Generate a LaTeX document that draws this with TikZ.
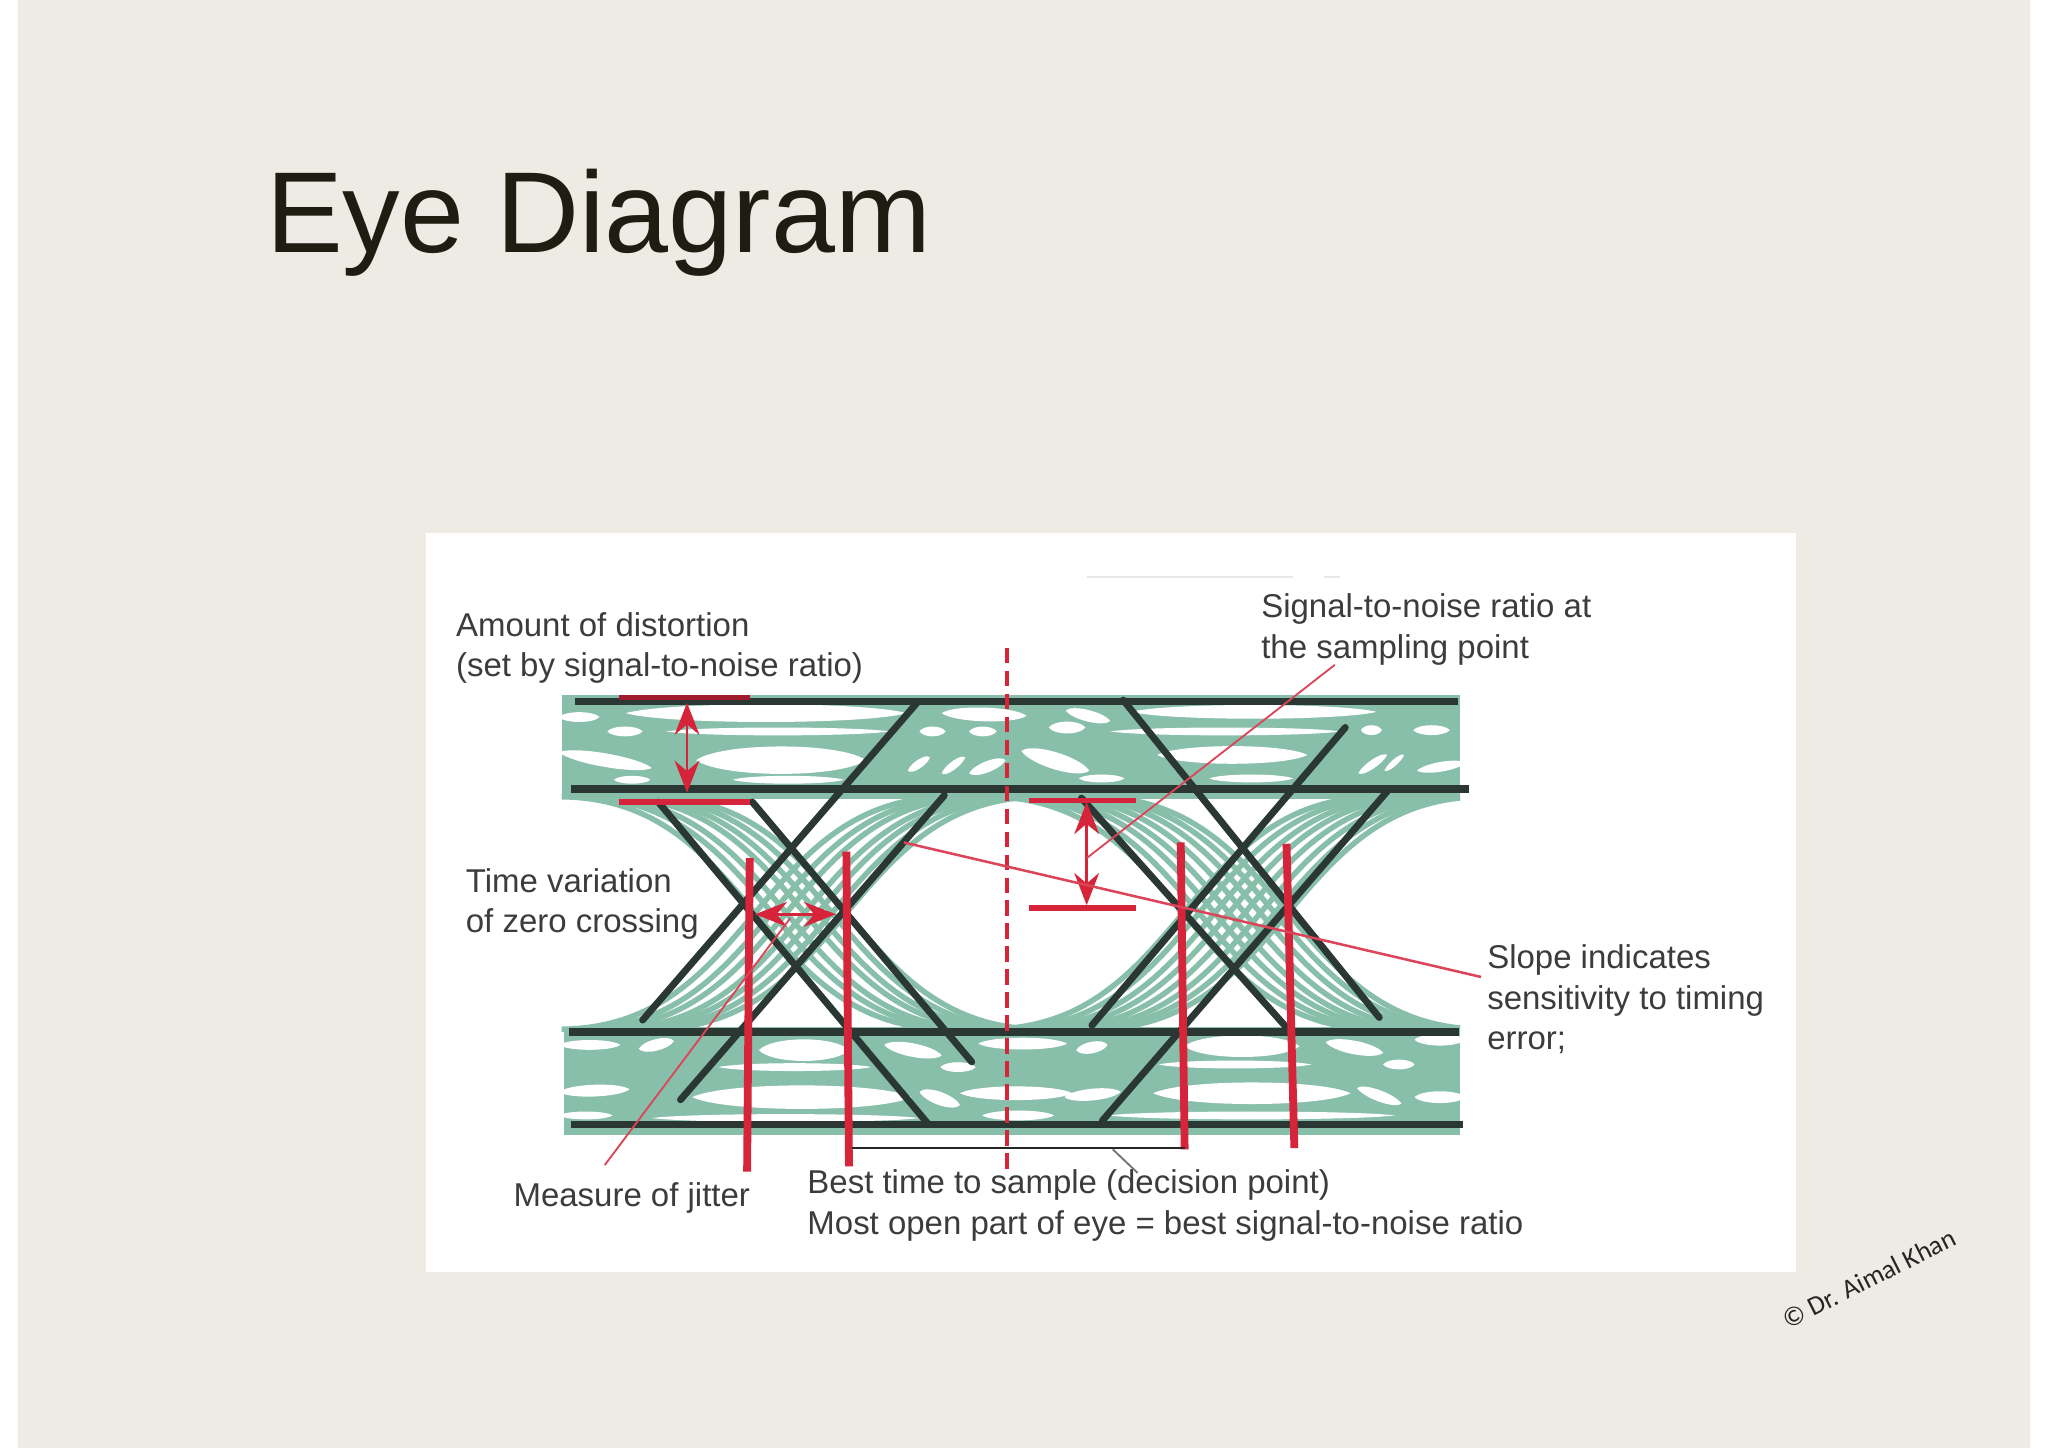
\documentclass[tikz,border=0pt]{standalone}
\usepackage{fontspec}
\setmainfont{Liberation Sans}
\newfontfamily\markfont{Carlito}
\usetikzlibrary{calc,arrows.meta}
\definecolor{slidebg}{HTML}{EEEAE4}
\definecolor{bandgreen}{HTML}{88BFAB}
\definecolor{raildark}{HTML}{2A3733}
\definecolor{markred}{HTML}{D6243A}
\definecolor{labelgray}{HTML}{3C3C3C}
\definecolor{titleink}{HTML}{1D1D12}
\tikzset{
	rail/.style={line width=1.6pt, color=raildark},
	slant/.style={line width=1.5pt, color=raildark, line cap=round},
	trace/.style={line width=1.2pt, color=bandgreen},
	redbar/.style={line width=1.7pt, color=markred},
	redcap/.style={line width=1.2pt, color=markred},
	leader/.style={line width=0.4pt, color=markred!85},
	gap/.style={{Stealth[length=7pt,width=5.4pt]}-{Stealth[length=7pt,width=5.4pt]}, line width=0.6pt, color=markred},
	lbl/.style={font=\fontsize{7.18}{8.8}\selectfont, align=left, anchor=west, inner sep=0pt, text=labelgray}
}
\begin{document}
\begin{tikzpicture}[x=0.01cm, y=-0.01cm]
	%%%%% START %%%%%
	\useasboundingbox (0, 0) rectangle (1568, 1108.6);
	\fill[white] (0, 0) rectangle (1568, 1108.6);
	\fill[slidebg] (14, 0) rectangle (1554, 1108.6);
	\fill[white] (326, 408) rectangle (1375, 974);

	\node[font=\fontsize{25.05}{30}\selectfont, anchor=base west, inner sep=0pt, text=titleink] (title) at (203, 193.5) {Eye Diagram};

	\draw[line width=0.5pt, color=black!9] (832, 442) -- (990, 442);
	\draw[line width=0.5pt, color=black!9] (1014, 442) -- (1026, 442);

	% green bands
	\fill[bandgreen] (430, 532) rectangle (1118, 612);
	\fill[bandgreen] (432, 786) rectangle (1118, 869);

	% white gaps in the bands: x1/y1/x2/y2/height
	\foreach \xa/\ya/\xb/\yb/\hh in {428/549/459/549/5, 479/546/694/546/9, 465/560/492/560/5, 510/560/681/560/4,
		533/582/663/582/14, 428/576/499/588/7, 470/597/498/597/4, 561/597/646/597/4, 704/560/724/560/5, 742/560/763/560/5,
		721/546/786/548/7, 803/557/831/557/6, 816/544/850/552/6, 850/560/1026/560/4, 866/545/1054/545/7, 886/578/1001/578/9,
		1042/559/1058/559/5, 1082/559/1110/559/5, 782/575/834/590/9, 826/596/861/596/4, 926/596/990/596/4,
		695/590/712/580/5, 721/592/739/580/5, 742/592/770/582/6, 1040/592/1062/578/5, 1060/590/1075/578/4, 1085/590/1122/584/5,
		428/800/475/800/5, 489/803/516/797/6, 581/804/650/804/11, 677/800/721/808/7, 749/799/817/799/6, 824/804/848/800/6,
		907/801/995/801/11, 1015/798/1059/806/7, 1083/796/1122/796/6, 550/817/667/817/4, 720/817/747/817/5, 887/815/1004/815/4,
		1059/815/1083/815/5, 428/836/482/834/6, 530/840/698/840/12, 704/836/735/846/7, 735/837/821/837/7, 815/840/858/836/6,
		883/837/1034/837/11, 1039/833/1073/845/6, 1083/840/1122/840/6, 428/854/469/854/4, 499/856/704/856/4, 752/854/807/854/5,
		848/854/1068/854/4}
		\fill[white] (\xa, \ya) .. controls ($(\xa, \ya)!0.15!(\xb, \yb)+(0, -\hh)$) and ($(\xa, \ya)!0.85!(\xb, \yb)+(0, -\hh)$) .. (\xb, \yb)
			.. controls ($(\xa, \ya)!0.85!(\xb, \yb)+(0, \hh)$) and ($(\xa, \ya)!0.15!(\xb, \yb)+(0, \hh)$) .. cycle;

	% green traces through the two crossings
	\begin{scope}
		\clip (430, 600) rectangle (1118, 800);
		\foreach \s in {428, 441, 452, 466, 476, 487, 498, 756, 768, 780, 791, 803, 815, 826, 836} {
			\draw[trace] (\s, 610) .. controls ($(\s, 610)+(150, 0)$) and ($(\s, 788)+(150, 0)$) .. ($(\s, 788)+(300, 0)$);
			\draw[trace] (\s, 788) .. controls ($(\s, 788)+(150, 0)$) and ($(\s, 610)+(150, 0)$) .. ($(\s, 610)+(300, 0)$);
		}
	\end{scope}

	% black outline of the eye
	\draw[rail] (440, 537) -- (1116, 537);
	\draw[rail] (437, 604) -- (1125, 604);
	\draw[rail] (436, 790) -- (1117, 790);
	\draw[rail] (437, 861) -- (1120, 861);

	\draw[slant] (504, 614) -- (711, 861);
	\draw[slant] (576, 614) -- (744, 813);
	\draw[slant] (703, 537) -- (492, 781);
	\draw[slant] (723, 609) -- (521, 842);

	\draw[slant] (828, 611) -- (988, 790);
	\draw[slant] (860, 536) -- (1056, 779);
	\draw[slant] (1030, 557) -- (836, 785);
	\draw[slant] (1062, 606) -- (844, 858);

	% red marks
	\draw[redcap, color=markred!75!black] (474, 534) -- (574, 534);
	\draw[redcap] (474, 614) -- (574, 614);
	\draw[redcap] (788, 613) -- (870, 613);
	\draw[redcap] (788, 695) -- (870, 695);

	\draw[redbar] (574, 657) -- (572, 897);
	\draw[redbar] (648, 652) -- (650, 893);
	\draw[redbar] (904, 645) -- (907, 880);
	\draw[redbar] (985, 646) -- (991, 879);
	\draw[line width=0.85pt, color=markred, dash pattern=on 3.4pt off 1.6pt] (771, 496) -- (771, 897);

	\coordinate (distTop) at (526, 538);
	\coordinate (distLow) at (526, 607);
	\coordinate (snrTop) at (832, 614);
	\coordinate (snrLow) at (832, 693);
	\coordinate (jitLeft) at (578, 700);
	\coordinate (jitRight) at (640, 700);
	\draw[gap] (distTop) -- (distLow);
	\draw[gap] (snrTop) -- (snrLow);
	\draw[gap] (jitLeft) -- (jitRight);

	% labels
	\node[lbl] (distortion) at (348.5, 496) {Amount of distortion\\(set by signal-to-noise ratio)};
	\node[lbl] (snrpoint) at (965, 482) {Signal-to-noise ratio at\\the sampling point};
	\node[lbl] (zerocross) at (356, 692) {Time variation\\of zero crossing};
	\node[lbl] (slope) at (1138, 765) {Slope indicates\\sensitivity to timing\\error;};
	\node[lbl] (jitter) at (392.5, 917) {Measure of jitter};
	\node[lbl] (besttime) at (617.5, 923) {Best time to sample (decision point)\\Most open part of eye = best signal-to-noise ratio};

	% thin leaders
	\coordinate (slopeEye) at (692, 645);
	\coordinate (slopeEnd) at (1134, 748);
	\coordinate (snrEye) at (832, 657);
	\coordinate (snrEnd) at (1022, 509);
	\coordinate (jitEye) at (605, 703);
	\coordinate (jitEnd) at (463, 892);
	\draw[leader, line width=0.55pt] (slopeEye) -- (slopeEnd);
	\draw[leader] (snrEye) -- (snrEnd);
	\draw[leader] (jitEye) -- (jitEnd);

	% decision point bracket
	\coordinate (brackLeft) at (652, 879);
	\coordinate (brackRight) at (907, 879);
	\coordinate (brackTick) at (852, 880);
	\coordinate (brackEnd) at (871, 898);
	\draw[line width=0.6pt, color=black!85] (brackLeft) -- (brackRight);
	\draw[line width=0.4pt, color=black!55] (brackTick) -- (brackEnd);

	\node[font=\markfont\fontsize{5.85}{7}\selectfont, rotate=26.7, inner sep=0pt, text=black!85] (watermark) at (1431, 979) {© Dr. Aimal Khan};
	%%%%% END %%%%%
\end{tikzpicture}
\end{document}
